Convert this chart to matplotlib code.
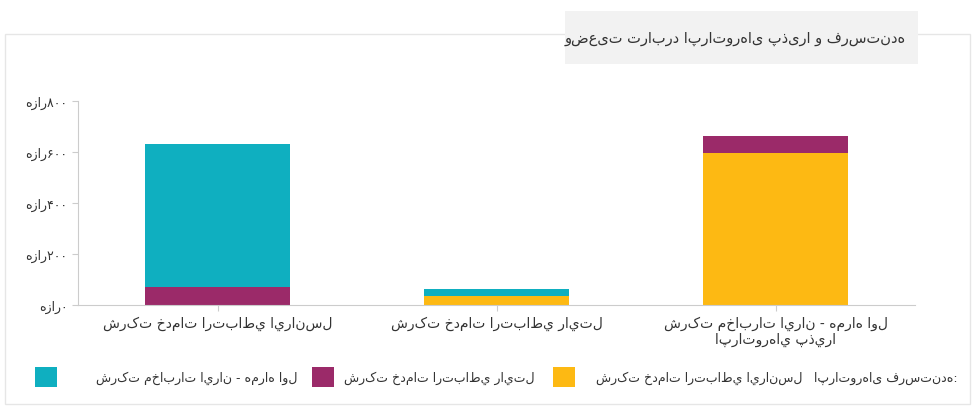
import matplotlib
matplotlib.use("Agg")
import matplotlib.pyplot as plt
from matplotlib.patches import Rectangle

plt.rcParams['font.family'] = ['DejaVu Sans']

categories = ["شرکت خدمات ارتباطي ايرانسل", "شرکت خدمات ارتباطي رايتل",
              "شرکت مخابرات ايران - همراه اول\nاپراتورهاي پذيرا"]
series_names = ["شرکت خدمات ارتباطي ايرانسل", "شرکت خدمات ارتباطي رايتل", "شرکت مخابرات ايران - همراه اول"]
irancell = [0, 35000, 596000]
rightel = [70000, 0, 67000]
mci = [561000, 28000, 0]
colors = ["#FDB913", "#9B2A69", "#0FAFC0"]
yticks = [0, 200000, 400000, 600000, 800000]
ytick_labels = ["هزار۰", "هزار۲۰۰", "هزار۴۰۰", "هزار۶۰۰", "هزار۸۰۰"]
title = "وضعیت ترابرد اپراتورهای پذیرا و فرستنده"
legend_title = "اپراتورهای فرستنده:"

fig = plt.figure(figsize=(9.77, 4.10), dpi=100)
fig.patches.append(Rectangle((5/977, 5/410), 965/977, 370/410, transform=fig.transFigure,
                             fill=False, edgecolor="#e6e6e6", lw=1))
fig.patches.append(Rectangle((565/977, 345/410), 353/977, 53/410, transform=fig.transFigure,
                             facecolor="#f2f2f2", edgecolor="none"))
fig.text(906/977, 371/410, title, ha="right", va="center", fontsize=10.5, color="#333333")

ax = fig.add_axes([78/977, 1-306/410, 837/977, 204/410])
x = range(len(categories))
w = 0.52
bottom = [0]*3
for vals, c in zip([irancell, rightel, mci], colors):
    ax.bar(x, vals, w, bottom=bottom, color=c)
    bottom = [b+v for b, v in zip(bottom, vals)]
ax.set_xlim(-0.5, 2.5)
ax.set_ylim(0, 800000)
ax.set_yticks(yticks)
ax.set_yticklabels(ytick_labels, fontsize=9, color="#333333")
ax.set_xticks(list(x))
ax.set_xticklabels(categories, fontsize=10, color="#333333")
for s in ["top", "right"]:
    ax.spines[s].set_visible(False)
for s in ["left", "bottom"]:
    ax.spines[s].set_color("#cccccc")
ax.tick_params(axis="both", color="#cccccc", length=4)

# legend (right to left)
ly = 1-378/410
fig.text(958/977, ly, legend_title, ha="right", va="center", fontsize=9, color="#333333")
xs = [802, 535, 297]
for name, c, xr in zip(series_names, colors, xs):
    fig.text(xr/977, ly, name, ha="right", va="center", fontsize=9, color="#333333")
for c, xl in zip(colors, [553, 312, 35]):
    fig.patches.append(Rectangle((xl/977, ly-10/410), 22/977, 20/410, transform=fig.transFigure,
                                 facecolor=c, edgecolor="none"))

fig.savefig("out.png", dpi=100)
